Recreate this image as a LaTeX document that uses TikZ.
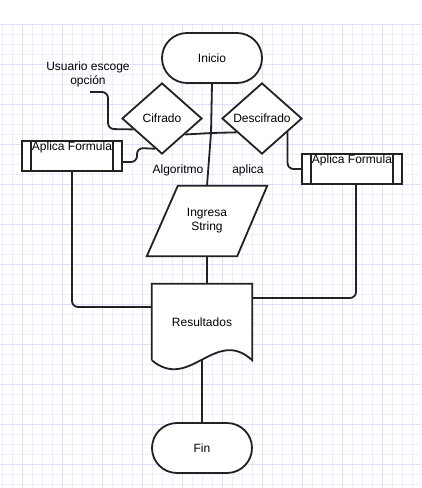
\documentclass[tikz,border=0pt]{standalone}
\usepackage{fontspec}
\setmainfont{Liberation Sans}
\usetikzlibrary{shapes.geometric,calc}
\definecolor{gminor}{HTML}{EDEDFB}
\definecolor{gmajor}{HTML}{DEDEF7}
\definecolor{ink}{HTML}{222222}
\pgfdeclarelayer{gridlayer}
\pgfdeclarelayer{connlayer}
\pgfsetlayers{gridlayer,connlayer,main}
\begin{document}
\begin{tikzpicture}[x=1pt,y=-1pt,
  every node/.style={font=\fontsize{12pt}{14pt}\selectfont, text=black},
  gm/.style={gminor,line width=0.8pt},
  gM/.style={gmajor,line width=0.9pt},
  shp/.style={draw=ink,line width=1.8pt,fill=white},
  term/.style={shp,rounded corners=25pt,minimum width=100pt,minimum height=50pt,inner sep=0pt},
  dec/.style={shp,shape=diamond,minimum width=80pt,minimum height=71pt,inner sep=0pt},
  proc/.style={shp,minimum width=100pt,minimum height=30pt,inner sep=0pt},
  ghost/.style={minimum width=90pt,minimum height=70pt,inner sep=0pt},
  conn/.style={draw=ink,line width=1.8pt,rounded corners=6pt},
  lbl/.style={inner sep=0pt,align=center}]
\useasboundingbox (0,0) rectangle (421,488);
\begin{pgfonlayer}{gridlayer}
\fill[white] (0,0) rectangle (421,488);
\foreach \x in {2,12,...,421} \draw[gm] (\x,24) -- (\x,488);
\foreach \y in {24,34,...,488} \draw[gm] (0,\y) -- (421,\y);
\foreach \x in {22,62,...,421} \draw[gM] (\x,24) -- (\x,488);
\foreach \y in {24,64,...,488} \draw[gM] (0,\y) -- (421,\y);
\end{pgfonlayer}

% nodes
\node[term] (ini) at (212,58) {Inicio};
\node[dec] (cif) at (162,118.5) {};
\node[lbl] at (cif) {Cifrado};
\node[dec] (des) at (262,118.5) {};
\node[lbl] at (des) {Descifrado};
\node[lbl] (usr) at (88,74) {Usuario escoge\\opci\'on};
\coordinate (u0) at (90,92);

\node[proc] (apl) at (72,156) {};
\draw[ink,line width=1.8pt] ([xshift=10pt]apl.north west) -- ([xshift=10pt]apl.south west)
  ([xshift=-10pt]apl.north east) -- ([xshift=-10pt]apl.south east);
\node[lbl] at ($(apl.north)+(0,7.5)$) {Aplica Formula};

\node[proc] (apr) at (352,169) {};
\draw[ink,line width=1.8pt] ([xshift=10pt]apr.north west) -- ([xshift=10pt]apr.south west)
  ([xshift=-10pt]apr.north east) -- ([xshift=-10pt]apr.south east);
\node[lbl] at ($(apr.north)+(0,7.5)$) {Aplica Formula};

\node[ghost] (ing) at (207,221) {};
\draw[shp,line join=miter] ($(ing.north west)+(16,0)$) -- ($(ing.north east)+(15,0)$)
  -- ($(ing.south east)+(-15,0)$) -- ($(ing.south west)+(-15,0)$) -- cycle;
\node[lbl] at (ing) {Ingresa\\String};

\node[minimum width=100pt,minimum height=76pt,inner sep=0pt] (res) at (202,322) {};
\draw[shp] (res.south west) -- (res.north west) -- (res.north east) -- (res.south east)
  .. controls ($(res.south east)+(-37,-34)$) and ($(res.south west)+(38,32)$) .. (res.south west);
\node[lbl] at (res) {Resultados};

\node[term] (fin) at (202,448) {Fin};

\coordinate (jn) at (211,133);
\node[lbl] (alg) at (178,170) {Algoritmo};
\node[lbl] (apc) at (248,170) {aplica};

% connectors
\begin{pgfonlayer}{connlayer}
\draw[conn] (ini.south) -- (jn);
\draw[conn] ($(cif.east)!0.44!(cif.south)$) -- (jn) -- ($(des.west)!0.38!(des.south)$);
\draw[conn] (jn) -- (ing.north);
\draw[conn] (u0) -- (108,92) -- (108,129) -- ($(cif.west)!0.3!(cif.south)$);
\draw[conn] ($(apl.east)+(0,6)$) -- (137,162) -- (137,148) -- ($(cif.west)!0.83!(cif.south)$);
\draw[conn] (apl.south) |- ($(res.west)+(0,-15)$);
\draw[conn] ($(des.east)!0.375!(des.south)$) |- (apr.west);
\draw[conn] ($(apr.south)+(4,0)$) |- ($(res.east)+(0,-24)$);
\draw[conn] (ing.south) -- (ing.south |- res.north);
\draw[conn] (res.south) -- (fin.north);
\end{pgfonlayer}
\end{tikzpicture}
\end{document}
